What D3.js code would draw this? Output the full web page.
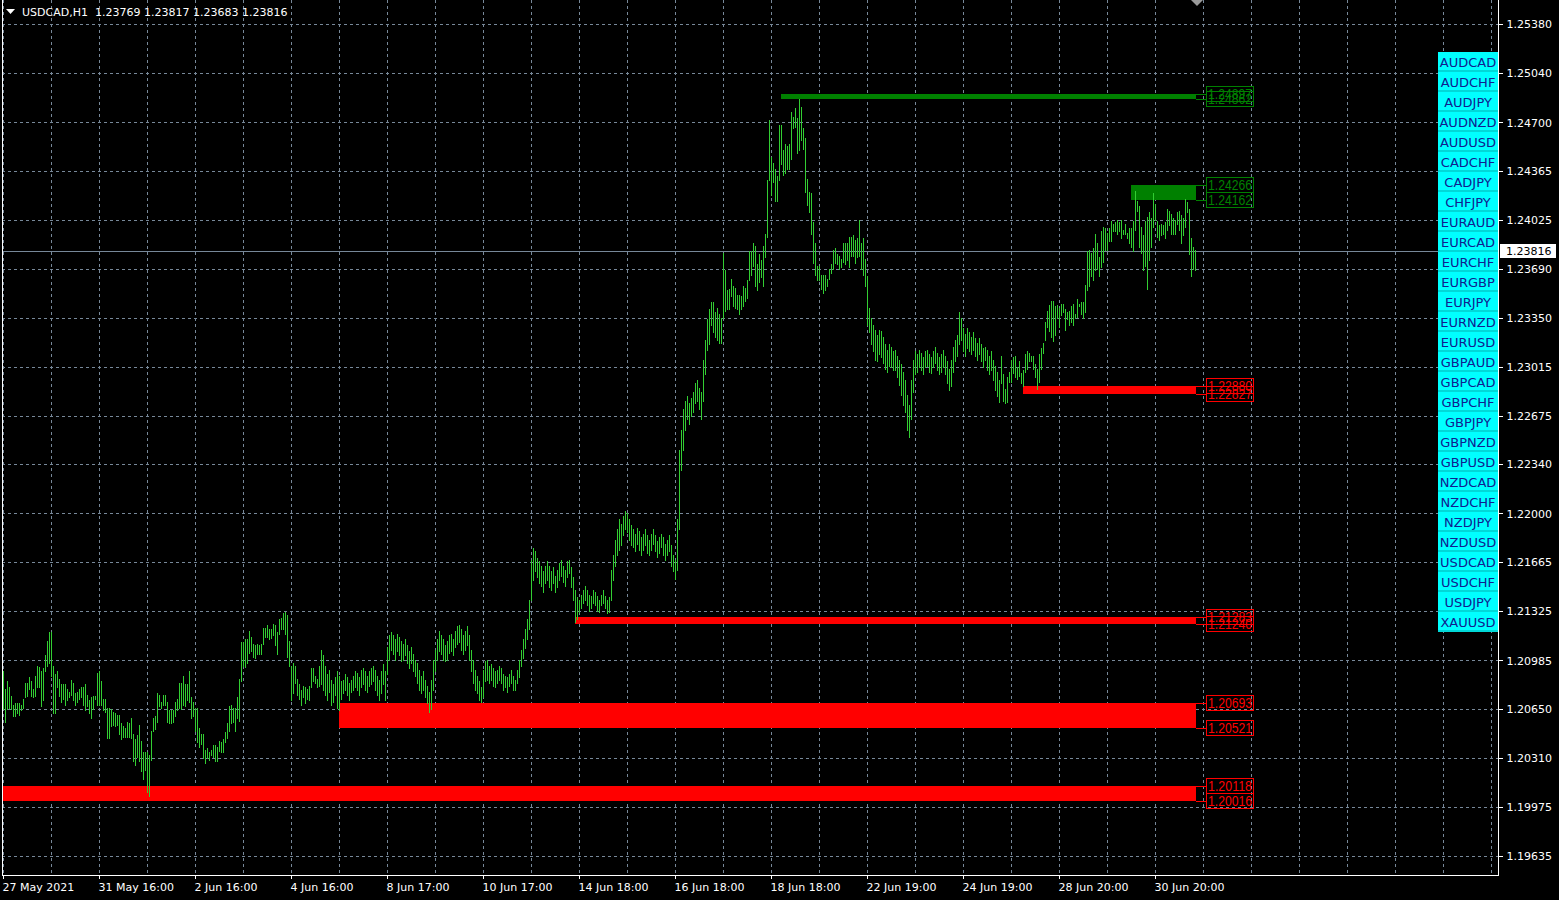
<!DOCTYPE html>
<html><head><meta charset="utf-8">
<script src="https://cdn.jsdelivr.net/npm/d3@7"></script>
<style>
html,body{margin:0;padding:0;background:#000;overflow:hidden}
svg{display:block;font-family:"DejaVu Sans",sans-serif}
</style></head><body>
<svg id="chart" width="1559" height="900"></svg>
<script>
// ---------------- DATA ----------------
const symbolTitle = "USDCAD,H1";
const lastOHLC = [1.23769, 1.23817, 1.23683, 1.23816];
const bidPrice = 1.23816;

// hourly bar highs (bar 0 = first bar on the left)
const highs = [
1.2091,1.2079,1.2084,1.2080,1.2074,1.2068,1.2069,1.2069,1.2069,1.2068,
1.2072,1.2083,1.2083,1.2087,1.2084,1.2079,1.2088,1.2095,1.2094,1.2091,
1.2093,1.2102,1.2112,1.2118,1.2118,1.2095,1.2089,1.2091,1.2086,1.2082,
1.2082,1.2082,1.2079,1.2077,1.2085,1.2083,1.2076,1.2077,1.2079,1.2080,
1.2080,1.2082,1.2075,1.2071,1.2073,1.2074,1.2074,1.2090,1.2091,1.2084,
1.2072,1.2072,1.2066,1.2066,1.2065,1.2063,1.2062,1.2061,1.2061,1.2055,
1.2053,1.2052,1.2056,1.2055,1.2059,1.2048,1.2044,1.2047,1.2054,1.2043,
1.2035,1.2035,1.2035,1.2033,1.2050,1.2059,1.2060,1.2076,1.2075,1.2070,
1.2075,1.2075,1.2070,1.2064,1.2064,1.2064,1.2070,1.2072,1.2083,1.2083,
1.2088,1.2082,1.2082,1.2091,1.2073,1.2070,1.2066,1.2066,1.2052,1.2048,
1.2048,1.2037,1.2038,1.2035,1.2037,1.2040,1.2040,1.2039,1.2043,1.2042,
1.2044,1.2049,1.2055,1.2067,1.2068,1.2066,1.2066,1.2073,1.2086,1.2111,
1.2111,1.2113,1.2113,1.2119,1.2115,1.2110,1.2109,1.2110,1.2109,1.2110,
1.2121,1.2121,1.2123,1.2120,1.2120,1.2124,1.2123,1.2118,1.2127,1.2128,
1.2131,1.2132,1.2130,1.2112,1.2095,1.2097,1.2095,1.2086,1.2082,1.2078,
1.2081,1.2080,1.2079,1.2081,1.2093,1.2093,1.2088,1.2086,1.2095,1.2106,
1.2102,1.2095,1.2089,1.2092,1.2085,1.2082,1.2087,1.2091,1.2088,1.2084,
1.2085,1.2089,1.2087,1.2083,1.2085,1.2088,1.2091,1.2090,1.2087,1.2092,
1.2093,1.2091,1.2088,1.2091,1.2093,1.2095,1.2092,1.2088,1.2085,1.2091,
1.2096,1.2091,1.2108,1.2116,1.2118,1.2116,1.2113,1.2117,1.2115,1.2112,
1.2110,1.2113,1.2109,1.2105,1.2108,1.2103,1.2099,1.2097,1.2092,1.2088,
1.2091,1.2085,1.2081,1.2077,1.2085,1.2099,1.2106,1.2113,1.2119,1.2116,
1.2113,1.2109,1.2112,1.2116,1.2117,1.2113,1.2119,1.2122,1.2123,1.2120,
1.2116,1.2119,1.2122,1.2116,1.2106,1.2099,1.2092,1.2088,1.2084,1.2080,
1.2092,1.2098,1.2099,1.2095,1.2096,1.2093,1.2091,1.2092,1.2095,1.2093,
1.2089,1.2088,1.2087,1.2089,1.2092,1.2088,1.2085,1.2092,1.2099,1.2106,
1.2113,1.2120,1.2127,1.2140,1.2168,1.2176,1.2174,1.2169,1.2167,1.2164,
1.2160,1.2164,1.2167,1.2164,1.2160,1.2163,1.2157,1.2161,1.2166,1.2168,
1.2164,1.2161,1.2167,1.2168,1.2163,1.2156,1.2147,1.2142,1.2140,1.2144,
1.2147,1.2150,1.2147,1.2144,1.2143,1.2147,1.2146,1.2143,1.2140,1.2144,
1.2147,1.2143,1.2140,1.2142,1.2161,1.2171,1.2182,1.2189,1.2196,1.2193,
1.2198,1.2202,1.2200,1.2196,1.2192,1.2189,1.2186,1.2190,1.2188,1.2184,
1.2186,1.2189,1.2185,1.2182,1.2186,1.2189,1.2185,1.2181,1.2184,1.2186,
1.2184,1.2179,1.2182,1.2185,1.2178,1.2171,1.2168,1.2196,1.2244,1.2258,
1.2272,1.2278,1.2281,1.2276,1.2280,1.2284,1.2290,1.2292,1.2287,1.2284,
1.2306,1.2320,1.2334,1.2341,1.2346,1.2346,1.2339,1.2342,1.2338,1.2335,
1.2380,1.2368,1.2354,1.2355,1.2362,1.2357,1.2356,1.2351,1.2351,1.2350,
1.2357,1.2356,1.2361,1.2381,1.2381,1.2387,1.2385,1.2372,1.2379,1.2375,
1.2385,1.2393,1.2430,1.2472,1.2446,1.2442,1.2438,1.2433,1.2468,1.2468,
1.2451,1.2455,1.2454,1.2455,1.2477,1.2474,1.2480,1.2473,1.2486,1.2481,
1.2466,1.2459,1.2431,1.2422,1.2421,1.2401,1.2387,1.2371,1.2371,1.2365,
1.2365,1.2365,1.2362,1.2369,1.2372,1.2382,1.2383,1.2379,1.2378,1.2376,
1.2387,1.2387,1.2387,1.2391,1.2391,1.2392,1.2389,1.2390,1.2403,1.2387,
1.2390,1.2376,1.2364,1.2342,1.2335,1.2330,1.2327,1.2323,1.2327,1.2326,
1.2322,1.2317,1.2313,1.2317,1.2315,1.2312,1.2313,1.2309,1.2306,1.2303,
1.2298,1.2292,1.2282,1.2275,1.2292,1.2306,1.2312,1.2310,1.2313,1.2311,
1.2308,1.2312,1.2313,1.2310,1.2308,1.2312,1.2315,1.2311,1.2308,1.2310,
1.2313,1.2309,1.2305,1.2300,1.2306,1.2315,1.2320,1.2323,1.2339,1.2335,
1.2328,1.2324,1.2328,1.2325,1.2322,1.2325,1.2321,1.2318,1.2321,1.2317,
1.2314,1.2315,1.2313,1.2309,1.2312,1.2306,1.2302,1.2298,1.2292,1.2309,
1.2296,1.2286,1.2294,1.2298,1.2306,1.2308,1.2309,1.2301,1.2305,1.2297,
1.2299,1.2310,1.2312,1.2311,1.2309,1.2309,1.2303,1.2300,1.2310,1.2314,
1.2318,1.2332,1.2340,1.2344,1.2347,1.2347,1.2343,1.2344,1.2342,1.2345,
1.2345,1.2341,1.2339,1.2340,1.2343,1.2345,1.2338,1.2348,1.2345,1.2346,
1.2346,1.2358,1.2381,1.2382,1.2380,1.2383,1.2393,1.2387,1.2377,1.2395,
1.2398,1.2397,1.2394,1.2397,1.2402,1.2400,1.2401,1.2403,1.2401,1.2403,
1.2396,1.2400,1.2394,1.2397,1.2397,1.2402,1.2423,1.2416,1.2412,1.2398,
1.2392,1.2402,1.2405,1.2408,1.2404,1.2421,1.2414,1.2402,1.2399,1.2400,
1.2399,1.2401,1.2410,1.2409,1.2407,1.2404,1.2403,1.2408,1.2409,1.2406,
1.2404,1.2417,1.2415,1.2410,1.2390,1.2384,1.23817
];

// hourly bar lows
const lows = [
1.2065,1.2056,1.2065,1.2066,1.2065,1.2060,1.2060,1.2062,1.2061,1.2064,
1.2066,1.2073,1.2074,1.2079,1.2074,1.2073,1.2074,1.2080,1.2080,1.2067,
1.2071,1.2091,1.2095,1.2097,1.2088,1.2062,1.2062,1.2080,1.2074,1.2070,
1.2072,1.2068,1.2071,1.2073,1.2075,1.2071,1.2068,1.2070,1.2072,1.2073,
1.2068,1.2064,1.2067,1.2062,1.2059,1.2065,1.2072,1.2068,1.2068,1.2068,
1.2064,1.2063,1.2045,1.2045,1.2053,1.2054,1.2053,1.2054,1.2048,1.2044,
1.2046,1.2046,1.2046,1.2046,1.2045,1.2029,1.2026,1.2032,1.2029,1.2022,
1.2017,1.2023,1.2008,1.2005,1.2030,1.2050,1.2051,1.2056,1.2067,1.2066,
1.2068,1.2068,1.2056,1.2055,1.2055,1.2056,1.2060,1.2064,1.2066,1.2065,
1.2068,1.2067,1.2071,1.2070,1.2059,1.2060,1.2050,1.2042,1.2039,1.2041,
1.2031,1.2028,1.2031,1.2030,1.2033,1.2032,1.2029,1.2029,1.2036,1.2035,
1.2035,1.2042,1.2045,1.2050,1.2055,1.2056,1.2050,1.2059,1.2057,1.2084,
1.2095,1.2094,1.2097,1.2104,1.2105,1.2101,1.2100,1.2103,1.2103,1.2103,
1.2110,1.2115,1.2115,1.2113,1.2114,1.2116,1.2109,1.2103,1.2117,1.2120,
1.2120,1.2117,1.2101,1.2095,1.2071,1.2076,1.2083,1.2075,1.2072,1.2068,
1.2073,1.2069,1.2072,1.2071,1.2080,1.2084,1.2083,1.2080,1.2081,1.2082,
1.2078,1.2075,1.2071,1.2077,1.2068,1.2070,1.2075,1.2066,1.2064,1.2072,
1.2076,1.2078,1.2075,1.2071,1.2077,1.2078,1.2080,1.2078,1.2075,1.2080,
1.2082,1.2078,1.2077,1.2081,1.2082,1.2084,1.2078,1.2075,1.2071,1.2076,
1.2082,1.2071,1.2089,1.2099,1.2106,1.2103,1.2099,1.2105,1.2102,1.2098,
1.2099,1.2102,1.2097,1.2093,1.2097,1.2091,1.2088,1.2083,1.2078,1.2076,
1.2078,1.2073,1.2069,1.2063,1.2065,1.2078,1.2091,1.2099,1.2105,1.2103,
1.2099,1.2098,1.2099,1.2104,1.2105,1.2102,1.2108,1.2110,1.2111,1.2106,
1.2103,1.2106,1.2109,1.2099,1.2091,1.2083,1.2078,1.2076,1.2071,1.2070,
1.2073,1.2084,1.2085,1.2083,1.2085,1.2081,1.2080,1.2083,1.2085,1.2083,
1.2078,1.2080,1.2077,1.2081,1.2083,1.2078,1.2078,1.2083,1.2087,1.2095,
1.2100,1.2107,1.2113,1.2120,1.2140,1.2154,1.2160,1.2156,1.2152,1.2150,
1.2146,1.2152,1.2154,1.2149,1.2147,1.2152,1.2146,1.2149,1.2154,1.2157,
1.2153,1.2150,1.2156,1.2159,1.2149,1.2140,1.2125,1.2127,1.2132,1.2135,
1.2138,1.2140,1.2137,1.2133,1.2135,1.2138,1.2137,1.2133,1.2132,1.2137,
1.2138,1.2135,1.2131,1.2132,1.2140,1.2154,1.2164,1.2171,1.2175,1.2178,
1.2185,1.2189,1.2187,1.2182,1.2178,1.2177,1.2174,1.2179,1.2175,1.2171,
1.2175,1.2178,1.2173,1.2171,1.2175,1.2179,1.2174,1.2170,1.2173,1.2177,
1.2171,1.2168,1.2171,1.2174,1.2164,1.2160,1.2155,1.2161,1.2189,1.2230,
1.2244,1.2258,1.2265,1.2262,1.2267,1.2270,1.2276,1.2278,1.2272,1.2265,
1.2278,1.2296,1.2313,1.2317,1.2330,1.2325,1.2322,1.2320,1.2318,1.2318,
1.2335,1.2340,1.2341,1.2341,1.2350,1.2343,1.2342,1.2341,1.2338,1.2341,
1.2343,1.2347,1.2349,1.2361,1.2365,1.2371,1.2357,1.2354,1.2360,1.2363,
1.2357,1.2377,1.2391,1.2430,1.2420,1.2429,1.2416,1.2416,1.2430,1.2441,
1.2434,1.2435,1.2438,1.2438,1.2445,1.2466,1.2467,1.2449,1.2451,1.2458,
1.2452,1.2422,1.2413,1.2408,1.2393,1.2373,1.2365,1.2361,1.2361,1.2355,
1.2352,1.2354,1.2357,1.2362,1.2366,1.2369,1.2373,1.2372,1.2369,1.2370,
1.2374,1.2372,1.2375,1.2370,1.2378,1.2378,1.2373,1.2377,1.2378,1.2369,
1.2365,1.2357,1.2330,1.2325,1.2317,1.2312,1.2306,1.2305,1.2310,1.2308,
1.2304,1.2300,1.2298,1.2302,1.2301,1.2299,1.2299,1.2294,1.2289,1.2282,
1.2275,1.2270,1.2258,1.2253,1.2265,1.2284,1.2296,1.2298,1.2301,1.2299,
1.2296,1.2301,1.2302,1.2298,1.2297,1.2301,1.2304,1.2299,1.2296,1.2298,
1.2301,1.2296,1.2290,1.2285,1.2288,1.2298,1.2305,1.2309,1.2317,1.2320,
1.2312,1.2309,1.2314,1.2312,1.2310,1.2313,1.2309,1.2306,1.2310,1.2305,
1.2301,1.2306,1.2299,1.2296,1.2299,1.2292,1.2285,1.2281,1.2277,1.2290,
1.2278,1.2276,1.2277,1.2291,1.2291,1.2297,1.2294,1.2293,1.2295,1.2290,
1.2288,1.2298,1.2300,1.2305,1.2305,1.2300,1.2294,1.2286,1.2291,1.2300,
1.2311,1.2320,1.2329,1.2326,1.2322,1.2319,1.2323,1.2335,1.2329,1.2337,
1.2339,1.2327,1.2334,1.2330,1.2332,1.2330,1.2335,1.2336,1.2343,1.2338,
1.2335,1.2339,1.2354,1.2357,1.2364,1.2361,1.2368,1.2369,1.2364,1.2370,
1.2374,1.2382,1.2382,1.2388,1.2388,1.2395,1.2395,1.2393,1.2395,1.2390,
1.2393,1.2393,1.2390,1.2387,1.2384,1.2381,1.2396,1.2409,1.2384,1.2380,
1.2368,1.2371,1.2355,1.2375,1.2384,1.2398,1.2403,1.2391,1.2389,1.2392,
1.2393,1.2390,1.2396,1.2399,1.2393,1.2393,1.2393,1.2400,1.2396,1.2387,
1.2392,1.2398,1.2408,1.2379,1.2364,1.2369,1.23683
];

// time axis labels and the bar index each one sits on
const timeLabels = ["27 May 2021","31 May 16:00","2 Jun 16:00","4 Jun 16:00","8 Jun 17:00","10 Jun 17:00","14 Jun 18:00","16 Jun 18:00","18 Jun 18:00","22 Jun 19:00","24 Jun 19:00","28 Jun 20:00","30 Jun 20:00"];
const timeLabelBars = [0,48,96,144,192,240,288,336,384,432,480,528,576];

// price axis labels
const priceTicks = ["1.25380","1.25040","1.24700","1.24365","1.24025","1.23690","1.23350","1.23015","1.22675","1.22340","1.22000","1.21665","1.21325","1.20985","1.20650","1.20310","1.19975","1.19635"];

// supply / demand zones
const zoneTop    = [1.24897, 1.24266, 1.22880, 1.21283, 1.20693, 1.20118];
const zoneBottom = [1.24862, 1.24162, 1.22827, 1.21240, 1.20521, 1.20016];
const zoneFromBar = [389, 564, 510, 286, 168, 0];
const zoneType   = ["supply","supply","demand","demand","demand","demand"];

// symbol buttons
const symbols = ["AUDCAD","AUDCHF","AUDJPY","AUDNZD","AUDUSD","CADCHF","CADJPY","CHFJPY","EURAUD","EURCAD","EURCHF","EURGBP","EURJPY","EURNZD","EURUSD","GBPAUD","GBPCAD","GBPCHF","GBPJPY","GBPNZD","GBPUSD","NZDCAD","NZDCHF","NZDJPY","NZDUSD","USDCAD","USDCHF","USDJPY","XAUUSD"];

// ---------------- DRAW ----------------
const W = 1559, H = 900;
const plot = {l: 2, r: 1498, t: 0, b: 875};
const svg = d3.select("#chart");
const N = highs.length;
const x = d3.scaleLinear().domain([0, N - 1]).range([3, 3 + 2 * (N - 1)]);
const y = d3.scaleLinear().domain([1.19635, 1.25380]).range([856, 24]);
const py = v => Math.round(y(v));
const gridColor = "#778899";
const zoneColor = {supply: "#008000", demand: "#ff0000"};

svg.append("rect").attr("width", W).attr("height", H).attr("fill", "#000");

svg.append("defs").append("clipPath").attr("id", "clip")
  .append("rect").attr("x", plot.l + 1).attr("y", plot.t).attr("width", plot.r - plot.l - 1).attr("height", plot.b - plot.t);

const grid = svg.append("g").attr("stroke", gridColor).attr("stroke-dasharray", "3,3")
  .attr("shape-rendering", "crispEdges").attr("clip-path", "url(#clip)");
grid.selectAll(".hg").data(priceTicks).enter().append("line")
  .attr("x1", plot.l).attr("x2", plot.r)
  .attr("y1", d => py(+d) + 0.5).attr("y2", d => py(+d) + 0.5);
grid.selectAll(".vg").data(d3.range(0, 760, 24)).enter().append("line")
  .attr("y1", plot.t).attr("y2", plot.b)
  .attr("x1", d => Math.round(x(d)) + 0.5).attr("x2", d => Math.round(x(d)) + 0.5);

const main = svg.append("g").attr("clip-path", "url(#clip)").attr("shape-rendering", "crispEdges");

// current price line
main.append("line").attr("x1", plot.l).attr("x2", plot.r)
  .attr("y1", py(bidPrice) + 0.5).attr("y2", py(bidPrice) + 0.5)
  .attr("stroke", gridColor);

// zones
const zones = zoneTop.map((t, i) => ({top: t, bottom: zoneBottom[i], from: zoneFromBar[i], type: zoneType[i]}));
main.selectAll(".zone").data(zones).enter().append("rect")
  .attr("x", d => Math.round(x(d.from)))
  .attr("width", d => Math.round(x(N - 1)) + 1 - Math.round(x(d.from)))
  .attr("y", d => py(d.top))
  .attr("height", d => Math.max(1, py(d.bottom) - py(d.top)))
  .attr("fill", d => zoneColor[d.type]);

// bars
main.selectAll(".bar").data(highs).enter().append("rect")
  .attr("x", (d, i) => Math.round(x(i)))
  .attr("width", 1)
  .attr("y", d => py(d))
  .attr("height", (d, i) => Math.max(1, py(lows[i]) - py(d) + 1))
  .attr("fill", "#32cd32");

// zone price labels
const labels = [];
zones.forEach(z => {
  labels.push({p: z.top, c: zoneColor[z.type]});
  labels.push({p: z.bottom, c: zoneColor[z.type]});
});
const lg = svg.append("g");
const xEnd = Math.round(x(N - 1)) + 1;
lg.selectAll(".ld").data(labels).enter().append("line")
  .attr("x1", xEnd).attr("x2", 1206)
  .attr("y1", d => py(d.p) + 0.5).attr("y2", d => py(d.p) + 0.5)
  .attr("stroke", d => d.c).attr("shape-rendering", "crispEdges");
lg.selectAll(".lb").data(labels).enter().append("rect")
  .attr("x", 1206.5).attr("y", d => py(d.p) - 7.5).attr("width", 47).attr("height", 15)
  .attr("fill", "none").attr("stroke", d => d.c).attr("shape-rendering", "crispEdges");
lg.selectAll(".lt").data(labels).enter().append("text")
  .attr("x", 1208).attr("y", d => py(d.p) + 5)
  .attr("fill", d => d.c)
  .attr("textLength", 44).attr("lengthAdjust", "spacingAndGlyphs")
  .style("font", "14px 'Liberation Sans Narrow','Liberation Sans',sans-serif")
  .text(d => d.p.toFixed(5));

// frame
const frame = svg.append("g").attr("stroke", "#fff").attr("shape-rendering", "crispEdges");
frame.append("line").attr("x1", plot.l + 0.5).attr("x2", plot.l + 0.5).attr("y1", 0).attr("y2", plot.b + 1);
frame.append("line").attr("x1", plot.r + 0.5).attr("x2", plot.r + 0.5).attr("y1", 0).attr("y2", plot.b + 1);
frame.append("line").attr("x1", plot.l).attr("x2", plot.r + 1).attr("y1", plot.b + 0.5).attr("y2", plot.b + 0.5);

// right price axis
const yAxis = d3.axisRight(y).tickValues(priceTicks.map(Number))
  .tickFormat((d, i) => priceTicks[i]).tickSizeInner(4).tickSizeOuter(0).tickPadding(4);
const gy = svg.append("g").attr("transform", `translate(${plot.r + 0.5},0)`).call(yAxis);
gy.select(".domain").remove();
gy.selectAll("line").attr("stroke", "#fff").attr("shape-rendering", "crispEdges");
gy.selectAll("text").attr("fill", "#fff").style("font", "11px 'DejaVu Sans'");

// bid price label
const bidG = svg.append("g");
bidG.append("rect").attr("x", 1500).attr("y", py(bidPrice) - 7).attr("width", 56).attr("height", 14).attr("fill", "#fff");
bidG.append("text").attr("x", 1506).attr("y", py(bidPrice) + 4).attr("fill", "#000")
  .style("font", "11px 'DejaVu Sans'").text(bidPrice.toFixed(5));

// bottom time axis
const xAxis = d3.axisBottom(x).tickValues(timeLabelBars)
  .tickFormat((d, i) => timeLabels[i]).tickSizeInner(4).tickSizeOuter(0);
const gx = svg.append("g").attr("transform", `translate(0,${plot.b})`).call(xAxis);
gx.select(".domain").remove();
gx.selectAll("line").attr("stroke", "#fff").attr("shape-rendering", "crispEdges");
gx.selectAll("text").attr("fill", "#fff").attr("text-anchor", "start")
  .attr("x", -1).attr("y", 16).attr("dy", 0).style("font", "11px 'DejaVu Sans'");

// header
svg.append("path").attr("d", "M6,9 L15,9 L10.5,14 Z").attr("fill", "#fff");
svg.append("text").attr("x", 22).attr("y", 16).attr("fill", "#fff").style("font", "11px 'DejaVu Sans'").text(symbolTitle);
svg.append("text").attr("x", 95).attr("y", 16).attr("fill", "#fff").style("font", "11px 'DejaVu Sans'")
  .text(lastOHLC.map(v => v.toFixed(5)).join(" "));

// chart shift marker
svg.append("path").attr("d", "M1191,0 L1203,0 L1197,6 Z").attr("fill", "#9a9a9a");

// symbol buttons
const band = d3.scaleBand().domain(symbols).range([52, 52 + 20 * symbols.length]);
const btn = svg.append("g").selectAll("g").data(symbols).enter().append("g")
  .attr("transform", d => `translate(1438,${band(d)})`);
btn.append("rect").attr("width", 60).attr("height", band.bandwidth()).attr("fill", "#00ffff");
btn.append("rect").attr("y", band.bandwidth() - 2).attr("width", 60).attr("height", 2).attr("fill", "#00d8d8");
btn.append("text").attr("x", 30).attr("y", 14.5).attr("text-anchor", "middle")
  .attr("fill", "#10208f").style("font", "13px 'DejaVu Sans'").text(d => d);
</script>
</body></html>
